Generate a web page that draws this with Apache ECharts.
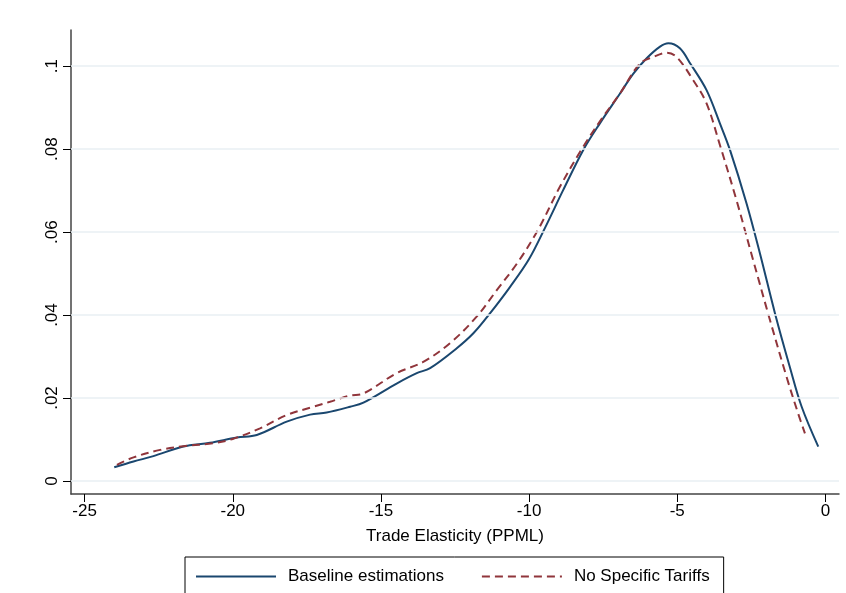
<!DOCTYPE html>
<html>
<head>
<meta charset="utf-8">
<script src="https://cdn.jsdelivr.net/npm/echarts@6/dist/echarts.min.js"></script>
<style>
html,body{margin:0;padding:0;background:#fff;}
#chart{width:846px;height:593px;}
</style>
</head>
<body>
<div id="chart"></div>
<script>
var seriesNames = ['Baseline estimations', 'No Specific Tariffs'];

var baseX = [-24.0, -23.35, -22.68, -21.67, -20.77, -19.86, -19.19, -18.18, -17.39, -16.83, -16.04, -15.59, -14.47, -13.79, -13.34, -12.44, -11.88, -11.32, -10.64, -10.0, -9.45, -8.85, -8.17, -7.61, -6.93, -6.48, -6.03, -5.58, -5.30, -4.91, -4.55, -4.01, -3.56, -3.22, -2.66, -2.21, -1.70, -1.20, -0.80, -0.24];
var baseY = [0.0033, 0.0047, 0.0060, 0.0083, 0.0092, 0.0105, 0.0111, 0.0143, 0.0160, 0.0165, 0.0179, 0.0189, 0.0235, 0.0260, 0.0272, 0.0320, 0.0356, 0.0404, 0.0468, 0.0535, 0.0612, 0.0701, 0.0798, 0.0862, 0.0934, 0.0982, 0.1019, 0.1047, 0.1055, 0.1043, 0.1005, 0.0942, 0.0862, 0.0798, 0.0669, 0.0549, 0.0404, 0.0275, 0.0179, 0.0083];

var tariffX = [-23.91, -23.35, -22.45, -21.67, -20.65, -19.98, -19.08, -18.18, -17.28, -16.72, -16.04, -15.59, -14.47, -13.57, -12.67, -11.77, -11.09, -10.4, -9.7, -8.96, -8.17, -7.50, -6.93, -6.26, -5.81, -5.36, -5.02, -4.46, -4.01, -3.56, -3.00, -2.44, -1.87, -1.31, -0.92, -0.69];
var tariffY = [0.0039, 0.0057, 0.0075, 0.0084, 0.0091, 0.0102, 0.0127, 0.0159, 0.0179, 0.0191, 0.0206, 0.0211, 0.0260, 0.0287, 0.0332, 0.0396, 0.0460, 0.0525, 0.0605, 0.0709, 0.0806, 0.0878, 0.0934, 0.1006, 0.1022, 0.1032, 0.1022, 0.0966, 0.0910, 0.0810, 0.0677, 0.0533, 0.0388, 0.0251, 0.0163, 0.0115];

var xTicks = [-25, -20, -15, -10, -5, 0];
var yTicks = [0, 0.02, 0.04, 0.06, 0.08, 0.1];
var xTitle = 'Trade Elasticity (PPML)';

function pairs(xs, ys) { return xs.map(function (x, i) { return [x, ys[i]]; }); }
function yFmt(v) { return v === 0 ? '0' : String(+v.toFixed(2)).replace(/^0\./, '.'); }

var FONT = '"Liberation Sans", Arial, sans-serif';
var chart = echarts.init(document.getElementById('chart'), null, {renderer: 'canvas'});
chart.setOption({
  animation: false,
  backgroundColor: '#ffffff',
  textStyle: {fontFamily: FONT},
  grid: {left: 71, right: 7, top: 30, bottom: 99, containLabel: false},
  legend: {
    data: seriesNames,
    left: 185, top: 557,
    padding: [11, 14, 14, 10],
    itemGap: 37, itemWidth: 80, itemHeight: 14,
    borderColor: '#000', borderWidth: 1,
    itemStyle: {opacity: 0, borderWidth: 0},
    textStyle: {fontSize: 17, color: '#000', fontFamily: FONT, padding: [0, 0, 0, 7]}
  },
  xAxis: {
    type: 'value', min: -25.46, max: 0.46,
    axisLine: {onZero: false, lineStyle: {color: '#444', width: 1.5}},
    axisTick: {customValues: xTicks, length: 8, lineStyle: {color: '#000', width: 1}},
    axisLabel: {customValues: xTicks, fontSize: 17, color: '#000', margin: 9, fontFamily: FONT},
    splitLine: {show: false},
    name: xTitle, nameLocation: 'middle', nameGap: 34,
    nameTextStyle: {fontSize: 17, color: '#000', fontFamily: FONT}
  },
  yAxis: {
    type: 'value', min: -0.00313, max: 0.1087,
    axisLine: {onZero: false, lineStyle: {color: '#444', width: 1.5}},
    axisTick: {customValues: yTicks, length: 8, lineStyle: {color: '#000', width: 1}},
    axisLabel: {customValues: yTicks, rotate: 90, fontSize: 17, color: '#000', margin: 10, fontFamily: FONT, formatter: yFmt},
    splitLine: {show: false}
  },
  series: [
    {
      name: 'grid', type: 'line', data: [], z: 1, silent: true,
      markLine: {
        silent: true, symbol: 'none', label: {show: false}, animation: false,
        lineStyle: {color: '#e8eff3', width: 1.5, type: 'solid'},
        data: yTicks.map(function (v) { return {yAxis: v}; })
      }
    },
    {
      name: seriesNames[0], type: 'line', data: pairs(baseX, baseY),
      smooth: 0.35, showSymbol: false, symbol: 'none', z: 3,
      lineStyle: {color: '#1a476f', width: 2}, itemStyle: {color: '#1a476f'}
    },
    {
      name: seriesNames[1], type: 'line', data: pairs(tariffX, tariffY),
      smooth: 0.35, showSymbol: false, symbol: 'none', z: 4,
      lineStyle: {color: '#90353b', width: 2, type: [8, 5]}, itemStyle: {color: '#90353b'}
    }
  ]
});
</script>
</body>
</html>
